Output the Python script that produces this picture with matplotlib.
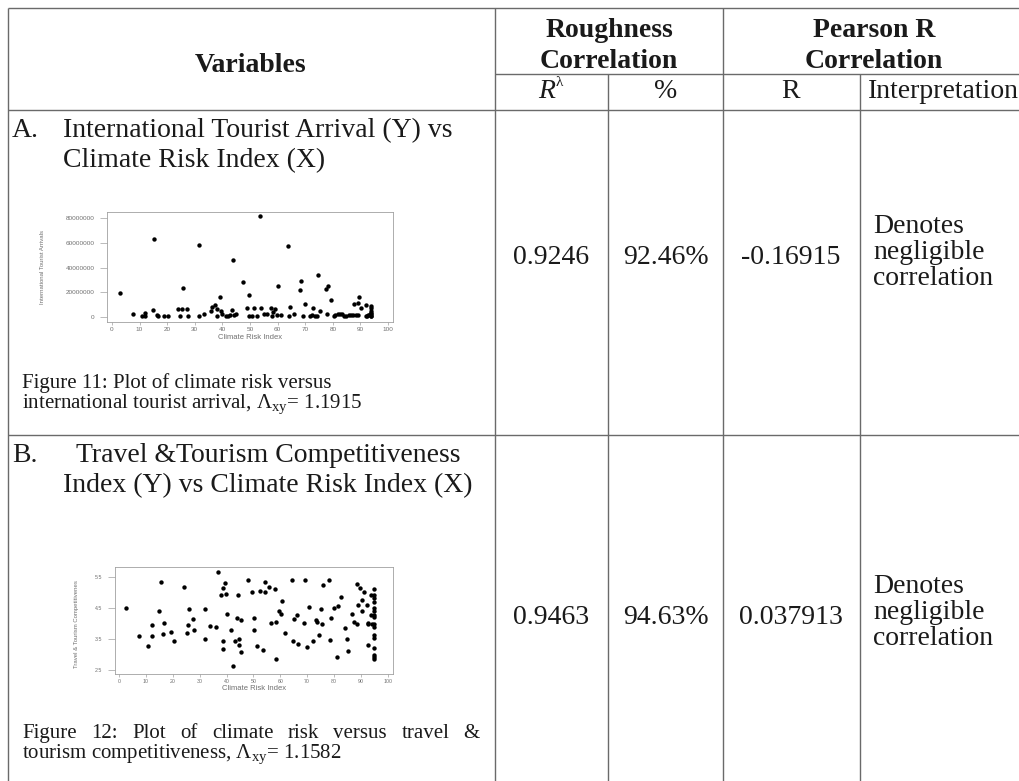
import matplotlib
matplotlib.use("Agg")
import matplotlib.pyplot as plt

plt.rcParams["font.family"] = ["Liberation Sans", "DejaVu Sans"]
plt.rcParams["mathtext.fontset"] = "custom"
plt.rcParams["mathtext.rm"] = "Liberation Serif"
plt.rcParams["mathtext.it"] = "Liberation Serif:italic"

SERIF = "Liberation Serif"
W, H = 1020, 781

# ---- table content ----
header_groups = [["Roughness", "Correlation"], ["Pearson R", "Correlation"]]
sub_headers = ["%", "R", "Interpretation"]
row_titles = [
    ["International Tourist Arrival (Y) vs", "Climate Risk Index (X)"],
    ["Travel &Tourism Competitiveness", "Index (Y) vs Climate Risk Index (X)"],
]
row_letters = ["A.", "B."]
r_lambda = ["0.9246", "0.9463"]
percent = ["92.46%", "94.63%"]
pearson_r = ["-0.16915", "0.037913"]
interpretation = ["Denotes", "negligible", "correlation"]
caption_a = ["Figure 11: Plot of climate risk versus",
             r"international tourist arrival, $\Lambda_{\mathrm{xy}}$= 1.1915"]
caption_b_words = ["Figure", "12:", "Plot", "of", "climate", "risk", "versus", "travel", "&"]
caption_b_line2 = r"tourism competitiveness, $\Lambda_{\mathrm{xy}}$= 1.1582"

# ---- scatter A: climate risk index vs international tourist arrivals (millions) ----
cri_a = [2.8, 7.5, 10.8, 12.0, 12.0, 14.7, 15.4, 16.3, 16.6, 19.0, 20.2, 23.9, 24.8, 25.4,
         25.7, 27.3, 27.7, 31.6, 31.7, 33.5, 35.7, 36.4, 37.3, 38.0, 38.2, 39.2, 39.5, 39.8,
         41.2, 41.9, 42.8, 43.4, 43.7, 44.3, 44.8, 47.6, 48.8, 49.8, 49.8, 50.8, 51.6, 52.7,
         53.6, 53.9, 55.2, 56.0, 57.5, 57.8, 58.2, 59.0, 59.6, 60.2, 61.4, 63.6, 64.0, 64.5,
         65.9, 68.1, 68.6, 69.3, 69.9, 71.7, 72.4, 72.9, 73.5, 74.3, 74.7, 75.3, 77.7, 78.3,
         77.9, 79.2, 80.4, 80.7, 81.9, 82.5, 83.5, 84.1, 84.9, 85.9, 86.7, 87.3, 87.7, 89.2,
         88.3, 89.2, 89.5, 90.1, 91.9, 91.9, 92.4, 92.8, 94.0, 94.0, 94.0, 94.0, 94.0, 94.0,
         94.0, 93.6]
arrivals_a = [19.4, 2.7, 0.8, 3.5, 0.8, 5.5, 63.1, 1.6, 0.5, 0.8, 0.5, 6.3, 0.8, 6.3,
              23.8, 6.6, 0.8, 0.8, 57.9, 2.2, 4.9, 8.5, 9.8, 6.3, 0.8, 16.4, 4.9, 2.7,
              0.8, 0.8, 1.6, 6.0, 46.4, 1.6, 2.7, 28.4, 7.6, 17.5, 0.5, 0.5, 7.6, 0.5,
              81.6, 7.6, 2.7, 2.7, 7.6, 0.5, 4.4, 6.6, 1.4, 24.8, 1.6, 57.1, 0.5, 8.5,
              2.7, 21.6, 29.5, 0.8, 10.4, 0.5, 1.6, 7.6, 0.5, 0.5, 34.1, 4.9, 22.9, 25.1,
              2.7, 13.4, 0.5, 1.6, 2.7, 2.7, 2.7, 0.8, 0.5, 1.6, 1.6, 1.6, 10.4, 11.2,
              1.6, 1.6, 16.4, 7.6, 9.8, 0.5, 0.8, 1.6, 9.3, 7.1, 4.9, 3.5, 2.2, 1.1,
              0.5, 2.7]
yticks_a = [0, 20e6, 40e6, 60e6, 80e6]
ytick_labels_a = ["0", "20000000", "40000000", "60000000", "80000000"]

# ---- scatter B: climate risk index vs travel & tourism competitiveness ----
cri_b = [2.7, 7.4, 10.8, 12.3, 12.3, 14.7, 15.7, 16.5, 16.9, 19.5, 20.4, 24.0, 25.3, 25.8,
         26.0, 27.6, 28.0, 32.0, 32.0, 34.0, 36.2, 36.9, 37.9, 38.5, 38.5, 38.5, 39.5, 39.9,
         40.0, 41.5, 42.5, 43.1, 43.9, 44.1, 44.6, 44.7, 45.2, 45.2, 48.0, 49.3, 50.2, 50.2,
         51.4, 52.3, 53.4, 54.2, 54.4, 55.6, 56.6, 58.1, 58.2, 58.2, 59.5, 60.1, 60.7, 61.7,
         64.2, 64.6, 65.0, 66.3, 66.7, 68.8, 69.3, 69.9, 70.6, 72.1, 73.4, 73.6, 74.2, 75.0,
         75.5, 75.8, 78.2, 78.3, 78.9, 79.9, 81.2, 81.5, 82.4, 84.0, 84.8, 85.3, 86.5, 87.4,
         88.5, 88.5, 88.7, 89.8, 90.2, 90.3, 91.0, 92.3, 92.6, 92.6, 92.7, 93.6, 93.6, 94.2,
         95.0, 95.0, 95.0, 95.0, 95.0, 95.0, 95.0, 95.0, 95.0, 95.0, 95.0, 95.0, 95.0, 95.0,
         95.0, 95.0]
ttci_b = [4.50, 3.58, 3.28, 3.96, 3.61, 4.39, 5.34, 3.67, 4.01, 3.74, 3.42, 5.18, 3.69, 3.96,
          4.47, 4.13, 3.80, 4.47, 3.49, 3.92, 3.90, 5.67, 4.93, 5.14, 3.45, 3.17, 5.31, 4.96,
          4.31, 3.80, 2.63, 3.42, 4.18, 4.92, 3.49, 3.32, 4.12, 3.09, 5.41, 5.01, 3.80, 4.18,
          3.28, 5.06, 3.13, 5.34, 5.00, 5.18, 4.03, 5.11, 4.05, 2.85, 4.41, 4.31, 4.72, 3.69,
          5.41, 3.44, 4.15, 4.26, 3.35, 4.00, 5.41, 3.24, 4.53, 3.44, 4.11, 4.06, 3.63, 4.46,
          3.97, 5.25, 5.41, 3.48, 4.19, 4.50, 2.91, 4.55, 4.84, 3.84, 3.49, 3.12, 4.32, 4.06,
          5.26, 3.99, 4.59, 5.15, 4.41, 4.76, 5.01, 4.60, 4.03, 3.98, 3.32, 4.93, 4.28, 3.98,
          5.11, 4.93, 4.82, 4.68, 4.50, 4.39, 4.28, 4.21, 3.99, 3.88, 3.63, 3.53, 3.20, 2.99,
          2.91, 2.85]
yticks_b = [2.5, 3.5, 4.5, 5.5]
ytick_labels_b = ["2.5", "3.5", "4.5", "5.5"]

fig = plt.figure(figsize=(W / 100, H / 100), dpi=100)
bg = fig.add_axes([0, 0, 1, 1])
bg.set_xlim(0, W)
bg.set_ylim(H, 0)
bg.axis("off")

# grid lines of the table (pixel coordinates)
line_kw = dict(color="#6a6a6a", lw=1.0, solid_capstyle="butt")
for y, x0, x1 in [(8, 8, 1020), (74, 495, 1020), (110, 8, 1020), (435, 8, 1020)]:
    bg.plot([x0, x1], [y, y], **line_kw)
for x, y0, y1 in [(8, 8, 781), (495, 8, 781), (608, 74, 781), (723, 8, 781), (860, 74, 781)]:
    bg.plot([x, x], [y0, y1], **line_kw)


def txt(x, y, s, size=20, **kw):
    kw.setdefault("va", "baseline")
    return bg.text(x, y, s, fontsize=size, family=SERIF, color="#1a1a1a", **kw)


# header
txt(251, 72, "Variables", weight="bold", ha="center")
for cx, lines in zip([609, 874], header_groups):
    txt(cx, 37, lines[0], weight="bold", ha="center")
    txt(cx, 68, lines[1], weight="bold", ha="center")
txt(547, 98, "R", style="italic", ha="center")
txt(556, 86, "λ", size=11, ha="left")
for cx, s in zip([666, 791, 943], sub_headers):
    txt(cx, 98, s, ha="center")

# body rows
title_base = [137, 462]
title_x = [[63, 63], [76, 63]]
value_base = [264, 624]
for i in range(2):
    txt(12, title_base[i], row_letters[i])
    txt(title_x[i][0], title_base[i], row_titles[i][0])
    txt(title_x[i][1], title_base[i] + 30, row_titles[i][1])
    txt(551, value_base[i], r_lambda[i], ha="center")
    txt(666, value_base[i], percent[i], ha="center")
    txt(791, value_base[i], pearson_r[i], ha="center")
    for k, word in enumerate(interpretation):
        txt(873, value_base[i] - 31 + 26 * k, word)

# captions
txt(22, 388, caption_a[0], size=15)
txt(22, 408, caption_a[1], size=15)

renderer = fig.canvas.get_renderer()
words = [txt(0, 738, w, size=15) for w in caption_b_words]
widths = [w.get_window_extent(renderer).width for w in words]
gap = (480 - 22 - sum(widths)) / (len(words) - 1)
xpos = 22
for w, wd in zip(words, widths):
    w.set_x(xpos)
    xpos += wd + gap
txt(22, 758, caption_b_line2, size=15)


def scatter_panel(box, x, y, xlim, ylim, yticks, ylabels, ylabel, ylabel_x, ylabel_y,
                  xlabel_y, tick_size):
    l, t, r, b = box
    ax = fig.add_axes([l / W, 1 - b / H, (r - l) / W, (b - t) / H])
    ax.scatter(x, y, s=10, c="black", linewidths=0, zorder=3)
    ax.set_xlim(*xlim)
    ax.set_ylim(*ylim)
    ax.set_xticks(range(0, 101, 10))
    ax.set_yticks(yticks)
    ax.set_yticklabels(ylabels)
    for sp in ax.spines.values():
        sp.set_color("#a0a0a0")
        sp.set_linewidth(0.6)
    ax.tick_params(axis="both", direction="out", width=0.5, color="#a0a0a0",
                   labelsize=tick_size, labelcolor="#707070")
    ax.tick_params(axis="x", length=2.5, pad=1)
    ax.tick_params(axis="y", length=5, pad=4)
    ax.set_xlabel("Climate Risk Index", fontsize=5.5, color="#707070", va="center")
    ax.xaxis.set_label_coords(0.5, xlabel_y)
    ax.set_ylabel(ylabel, fontsize=4.3, color="#707070", va="center")
    ax.yaxis.set_label_coords(ylabel_x, ylabel_y)
    return ax


scatter_panel((107, 212, 393, 322), cri_a, [v * 1e6 for v in arrivals_a],
              (-1.8, 101.8), (-4e6, 85e6), yticks_a, ytick_labels_a,
              "International Tourist Arrivals", -0.224, 0.5, -0.145, 4.6)
scatter_panel((115, 567, 393, 674), cri_b, ttci_b,
              (-1.5, 101.9), (2.37, 5.82), yticks_b, ytick_labels_b,
              "Travel & Tourism Competitivenes", -0.14, 0.467, -0.135, 3.8)

fig.savefig("out.png", dpi=100)
